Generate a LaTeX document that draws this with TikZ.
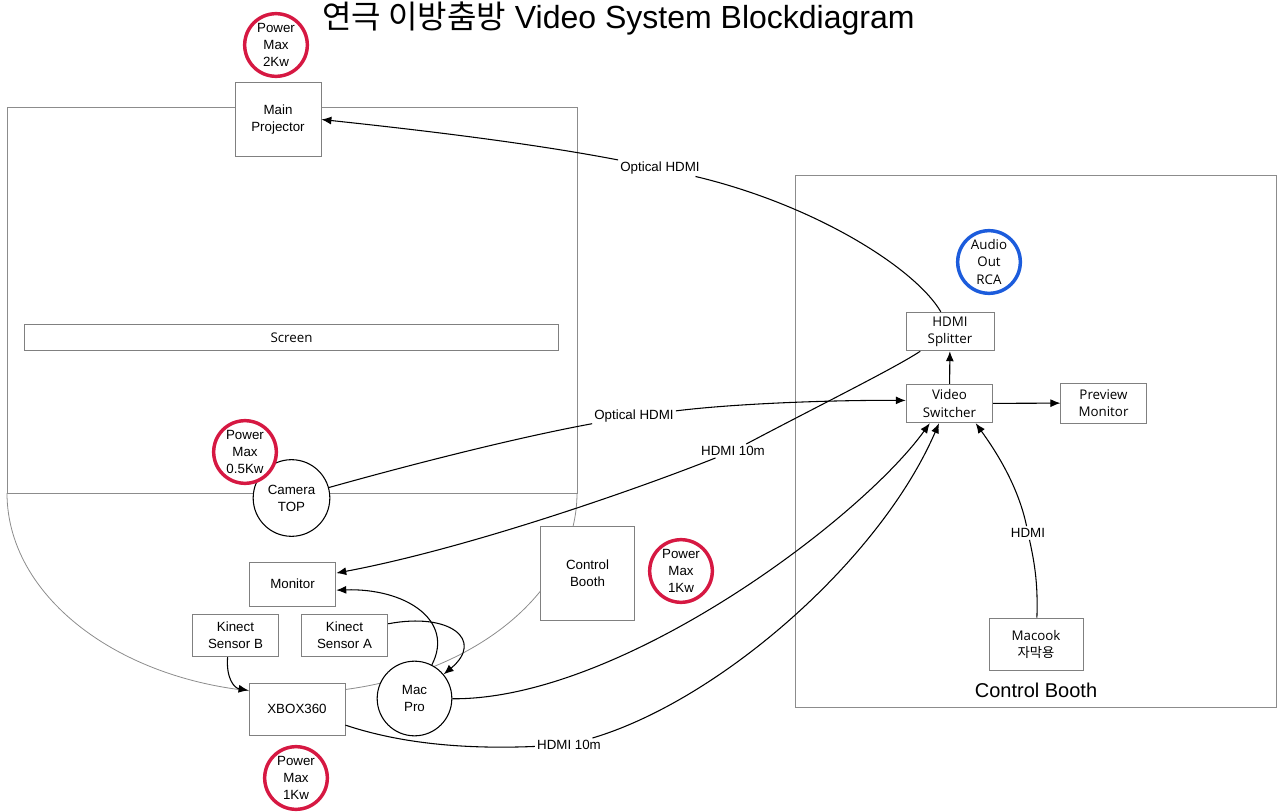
\documentclass[tikz,border=0pt]{standalone}
\usepackage{fontspec}
\setmainfont{Liberation Sans}
\newfontfamily\krfont{Noto Sans CJK KR}
\newfontfamily\osfont{Open Sans}
\usetikzlibrary{arrows.meta}

\begin{document}
\begin{tikzpicture}[x=0.75pt,y=0.75pt,yscale=-1,xscale=1,
  box/.style={draw={rgb,255:red,128;green,128;blue,128},line width=0.6pt,fill=white,align=center,inner sep=1pt,font=\fontsize{10}{12.8}\selectfont},
  obox/.style={box,font=\osfont\fontsize{10}{12.8}\selectfont},
  dev/.style={circle,draw=black,line width=0.8pt,fill=white,align=center,inner sep=0pt,minimum size=57.5pt,font=\fontsize{10}{12.8}\selectfont},
  pwr/.style={circle,draw={rgb,255:red,214;green,24;blue,66},line width=2.6pt,fill=white,align=center,inner sep=0pt,minimum size=47pt,font=\fontsize{10}{13}\selectfont},
  stage/.style={draw={rgb,255:red,140;green,140;blue,140},line width=0.6pt},
  lbl/.style={inner sep=1.5pt,font=\fontsize{10}{12}\selectfont},
  wire/.style={draw=black,line width=0.8pt},
  feed/.style={wire,-{Latex[length=7.5pt,width=6pt]}}
]
\path[use as bounding box] (0,0) rectangle (1277,812);

% stage and booth outlines
\draw[stage] (7,493) -- (7,107) -- (577,107) -- (577,493) -- cycle;
\draw[stage] (7,493) arc[start angle=180,end angle=0,x radius=285,y radius=200];
\draw[stage] (795,175) rectangle (1276,707);

\node[anchor=west,inner sep=0pt,font=\fontsize{24}{28}\selectfont] (title) at (322,19) {{\krfont 연극 이방춤방} Video System Blockdiagram};

\node[box,minimum width=64.5pt,minimum height=56pt] (proj) at (278,119.5) {Main\\Projector};
\node[obox,minimum width=400pt,minimum height=20pt] (screen) at (291.5,337.5) {Screen};
\node[dev] (camera) at (291.5,498) {Camera\\TOP};
\node[box,minimum width=65pt,minimum height=33pt] (monitor) at (292.5,584) {Monitor};
\node[box,minimum width=65pt,minimum height=32pt] (kinB) at (235.5,635.5) {Kinect\\Sensor B};
\node[box,minimum width=65pt,minimum height=32pt] (kinA) at (344.5,635.5) {Kinect\\Sensor A};
\node[box,minimum width=72pt,minimum height=39pt] (xbox) at (297,709) {XBOX360};
\node[dev,minimum size=56pt] (macpro) at (414.5,698.5) {Mac\\Pro};
\node[box,minimum width=71pt,minimum height=70pt] (booth) at (587.5,573.5) {Control\\Booth};

\node[obox,minimum width=66pt,minimum height=29pt] (split) at (950,331.5) {HDMI\\Splitter};
\node[obox,minimum width=65pt,minimum height=29pt] (switch) at (949.5,403.5) {Video\\Switcher};
\node[obox,minimum width=64pt,minimum height=30pt] (preview) at (1103.5,403) {Preview\\Monitor};
\node[obox,minimum width=70.5pt,minimum height=39pt] (macook) at (1036,644) {Macook\\{\krfont 자막용}};
\node[font=\fontsize{15}{18}\selectfont] (boothlbl) at (1036,690) {Control Booth};

\node[pwr] (pwrProj) at (276,45) {Power\\Max\\2Kw};
\node[pwr] (pwrCam) at (245,452) {Power\\Max\\0.5Kw};
\node[pwr] (pwrBooth) at (681,571) {Power\\Max\\1Kw};
\node[pwr] (pwrXbox) at (296,778) {Power\\Max\\1Kw};
\node[pwr,draw={rgb,255:red,28;green,92;blue,220},font=\osfont\fontsize{10}{13}\selectfont] (audio) at (989,262) {Audio\\Out\\RCA};

\node[lbl] (opt1) at (660,168) {Optical HDMI};
\node[lbl] (opt2) at (634,416) {Optical HDMI};
\node[lbl] (hd1) at (733,451) {HDMI 10m};
\node[lbl] (hd2) at (569,745) {HDMI 10m};
\node[lbl] (hdmi) at (1028,533) {HDMI};

% connections
\draw[wire] (split.115) .. controls (915,268) and (815,205) .. (opt1);
\draw[feed] (opt1) .. controls (530,143) and (420,130) .. (proj.east);

\draw[wire] (camera) .. controls (420,462) and (520,437) .. (opt2);
\draw[feed] (opt2) .. controls (740,403) and (840,400) .. (switch.176);

\draw[wire] (split) .. controls (895,368) and (820,405) .. (hd1);
\draw[feed] (hd1) .. controls (640,488) and (470,548) .. (monitor.14);

\draw[feed] (macpro) .. controls (455,620) and (405,588) .. (monitor.-8);
\draw[feed] (kinA.15) .. controls (450,612) and (485,640) .. (macpro);
\draw[feed] (kinB.250) .. controls (226,678) and (234,688) .. (xbox.159);

\draw[feed] (macpro) .. controls (620,700) and (860,520) .. (switch.-135);
\draw[wire] (xbox) .. controls (390,740) and (450,750) .. (hd2);
\draw[feed] (hd2) .. controls (720,700) and (880,560) .. (switch.-118);

\draw[wire] (macook) .. controls (1038,585) and (1035,565) .. (hdmi);
\draw[feed] (hdmi) .. controls (1018,485) and (995,450) .. (switch.-37);

\draw[feed] (switch) -- (split);
\draw[feed] (switch) -- (preview);
\end{tikzpicture}
\end{document}
